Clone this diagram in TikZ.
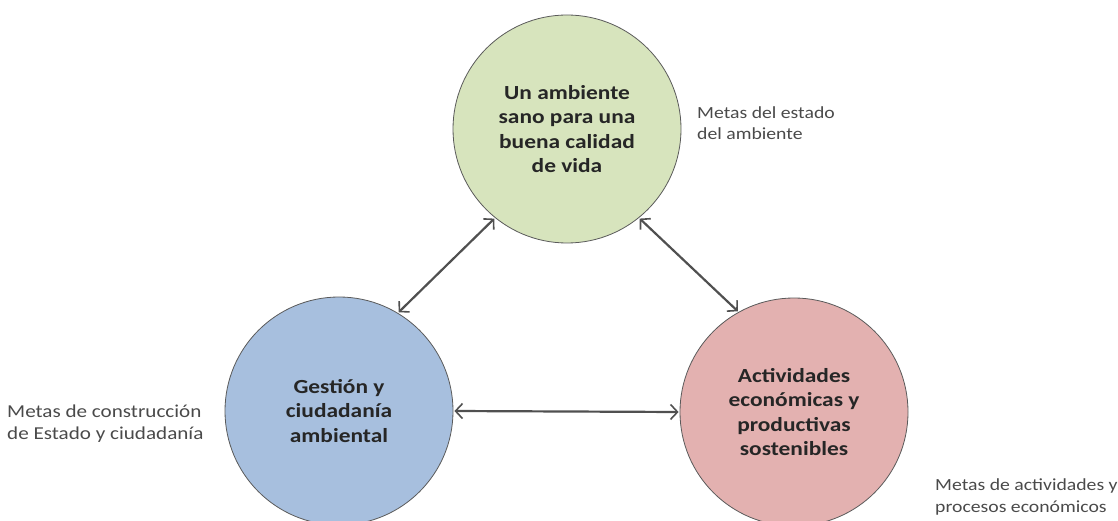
\documentclass[tikz,border=0pt]{standalone}
\usepackage{fontspec}
\setmainfont{Carlito}
\newfontfamily\bubblefont[FakeStretch=1.17]{Carlito}
\newfontfamily\goalfont[FakeStretch=1.16]{Carlito}
\usetikzlibrary{arrows.meta}
\definecolor{cgreen}{HTML}{D7E4BD}
\definecolor{cblue}{HTML}{A7BFDE}
\definecolor{cpink}{HTML}{E3B1B0}
\definecolor{edgegray}{HTML}{5A5A5A}
\definecolor{arrowgray}{HTML}{505050}
\definecolor{labgray}{HTML}{4A4A4A}
\begin{document}
\begin{tikzpicture}[x=1pt,y=-1pt,
  bubble/.style={circle,draw=edgegray,line width=0.8pt,minimum size=228pt,inner sep=0pt,align=center,
    font=\bubblefont\fontsize{20}{24.5}\selectfont\bfseries,text=black!85},
  goal/.style={anchor=west,align=left,font=\goalfont\fontsize{17}{21.5}\selectfont,text=labgray,inner sep=0pt},
  link/.style={draw=arrowgray,line width=2.2pt,{Straight Barb[length=7pt,width=15pt,line width=1.6pt]}-{Straight Barb[length=7pt,width=15pt,line width=1.6pt]},shorten <=1pt,shorten >=1pt}]
\useasboundingbox (0,0) rectangle (1118,521);
\node[bubble,fill=cgreen] (top) at (567,129) {Un ambiente\\sano para una\\buena calidad\\de vida};
\node[bubble,fill=cblue] (left) at (339,411) {Gestión y\\ciudadanía\\ambiental};
\node[bubble,fill=cpink] (right) at (794,412) {Actividades\\económicas y\\productivas\\sostenibles};
\node[goal] (gtop) at (697,123) {Metas del estado\\del ambiente};
\node[goal,font=\goalfont\fontsize{18.2}{22}\selectfont] (gleft) at (7,424) {Metas de construcción\\de Estado y ciudadanía};
\node[goal] (gright) at (935,497) {Metas de actividades y\\procesos económicos};
\draw[link] (left.59) -- (top.-129);
\draw[link] (top.-51) -- (right.119);
\draw[link] (left.east) -- (right.west);
\end{tikzpicture}
\end{document}
